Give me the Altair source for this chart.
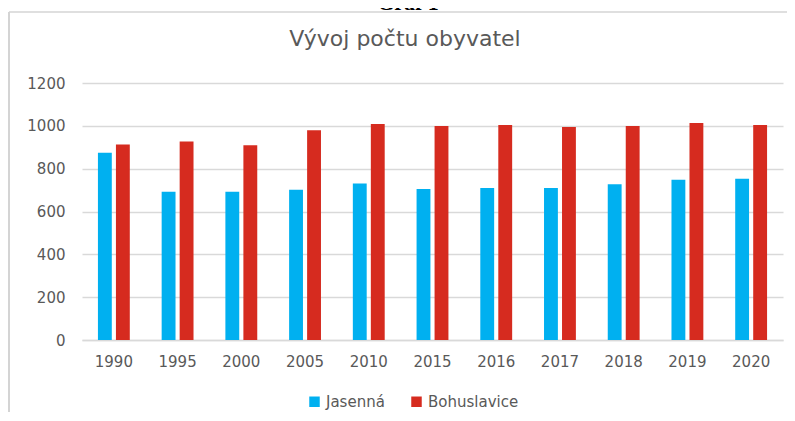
import altair as alt
import pandas as pd

years = ["1990", "1995", "2000", "2005", "2010", "2015", "2016", "2017", "2018", "2019", "2020"]
jasenna = [874, 692, 692, 702, 731, 705, 710, 710, 727, 748, 753]
bohuslavice = [913, 927, 909, 979, 1008, 999, 1004, 994, 999, 1013, 1004]
series = ["Jasenná", "Bohuslavice"]
colors = ["#00B0F0", "#D62B1F"]
y_ticks = [0, 200, 400, 600, 800, 1000, 1200]

rows = []
for i, yr in enumerate(years):
    rows.append({"rok": yr, "obec": series[0], "pocet": jasenna[i]})
    rows.append({"rok": yr, "obec": series[1], "pocet": bohuslavice[i]})
df = pd.DataFrame(rows)

FONT = "DejaVu Sans"
GRAY = "#595959"

bars = alt.Chart(df).mark_bar().encode(
    x=alt.X("rok:N", sort=years, title=None,
            scale=alt.Scale(paddingInner=0.5, paddingOuter=0.25),
            axis=alt.Axis(labelAngle=0, ticks=False, domainColor="#d9d9d9", domainWidth=1.5,
                          labelFont=FONT, labelFontSize=15, labelColor=GRAY, labelPadding=14)),
    xOffset=alt.XOffset("obec:N", sort=series, scale=alt.Scale(paddingInner=0.23)),
    y=alt.Y("pocet:Q", title=None,
            scale=alt.Scale(domain=[0, 1200], nice=False),
            axis=alt.Axis(values=y_ticks, format="d", ticks=False, domain=False,
                          gridColor="#d9d9d9", gridWidth=1.3, labelFont=FONT, labelFontSize=15,
                          labelColor=GRAY, labelPadding=17)),
    color=alt.Color("obec:N", sort=series,
                    scale=alt.Scale(domain=series, range=colors),
                    legend=alt.Legend(title=None, orient="none", direction="horizontal",
                                      legendX=225, legendY=311, symbolType="square",
                                      symbolSize=110, symbolStrokeWidth=0, labelFont=FONT,
                                      labelFontSize=15, labelColor=GRAY, labelOffset=4,
                                      columnPadding=24)),
)

frame = alt.Data(values=[{"k": 1}])
top_border = alt.Chart(frame).mark_rule(color="#d4d4d4", strokeWidth=1.5).encode(
    x=alt.value(-73), x2=alt.value(712), y=alt.value(-71))
left_border = alt.Chart(frame).mark_rule(color="#d4d4d4", strokeWidth=2).encode(
    x=alt.value(-73), y=alt.value(-71), y2=alt.value(340))
graf = alt.Chart(frame).mark_text(text="Graf 1", font="Liberation Serif", fontWeight="bold",
                                  fontSize=22, baseline="alphabetic", align="center",
                                  color="black").encode(
    x=alt.value(326), y=alt.value(-73))
title = alt.Chart(frame).mark_text(text="Vývoj počtu obyvatel", font=FONT, fontSize=22,
                                   baseline="alphabetic", align="center", color=GRAY).encode(
    x=alt.value(323), y=alt.value(-37))

chart = alt.layer(top_border, left_border, graf, title, bars).properties(
    width=701, height=257,
    autosize=alt.AutoSizeParams(type="none"),
    padding={"left": 74, "top": 75, "right": 4, "bottom": 72},
).configure_view(stroke=None)

chart.save("out.html", embed_options={"renderer": "svg", "actions": False})
